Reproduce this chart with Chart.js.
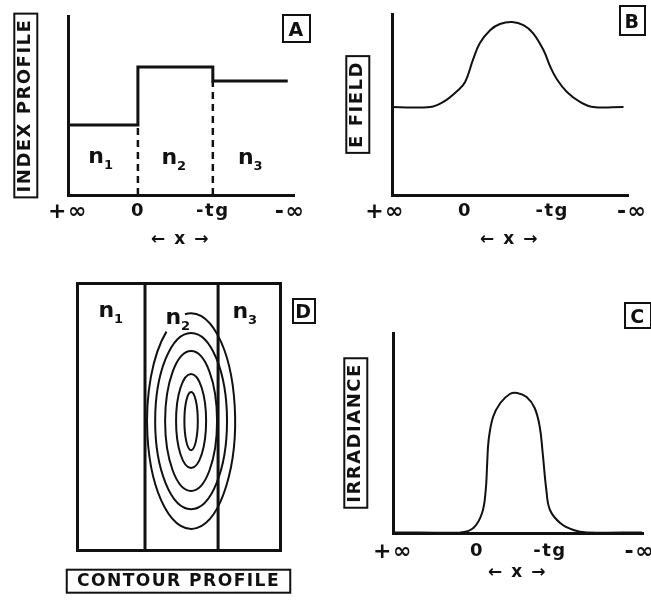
<!DOCTYPE html>
<html>
<head>
<meta charset="utf-8">
<script src="https://cdn.jsdelivr.net/npm/chart.js@4.4.1/dist/chart.umd.min.js"></script>
<style>
  body { margin: 0; background: #fff; }
  #page { position: relative; width: 651px; height: 602px; overflow: hidden; background: #fff; }
  .panel { position: absolute; }
</style>
</head>
<body>
<div id="page">
  <div class="panel" style="left:0;top:0;width:325px;height:260px"><canvas id="chartA"></canvas></div>
  <div class="panel" style="left:330px;top:0;width:321px;height:260px"><canvas id="chartB"></canvas></div>
  <div class="panel" style="left:0;top:280px;width:330px;height:322px"><canvas id="chartD"></canvas></div>
  <div class="panel" style="left:330px;top:280px;width:321px;height:322px"><canvas id="chartC"></canvas></div>
</div>
<script>
// Globals
var BLACK = '#111';
var FONT = "'DejaVu Sans', sans-serif";

// ----------------- DATA -----------------
// position across the guide in units of its thickness tg
// (0 = n1/n2 interface, 1 = n2/n3 interface, +inf off to the left)
var tickLabels = ["+\u221e", "0", "-tg", "-\u221e"];
var tickPosA = [-0.933, 0, 1, 2.03];
var tickPosB = [-0.92, 0, 1, 1.92];
var tickPosC = [-1.15, 0, 1, 2.23];

// A: index profile, one level per layer
var layerNames = ["1", "2", "3"];
var layerEdgesA = [-0.933, 0, 1, 2.0];
var indexLevels = [0.391, 0.715, 0.637];

// B: E field
var fieldX = [-0.83, -0.40, -0.25, -0.09, 0.0, 0.09, 0.17, 0.29, 0.40, 0.54, 0.67, 0.78, 0.90, 0.98, 1.06, 1.17, 1.32, 1.47, 1.82];
var fieldY = [0.486, 0.486, 0.514, 0.575, 0.624, 0.746, 0.840, 0.912, 0.945, 0.956, 0.939, 0.895, 0.801, 0.707, 0.635, 0.569, 0.514, 0.486, 0.486];

// C: irradiance
var irrX = [-1.15, -0.23, -0.05, 0.07, 0.12, 0.14, 0.16, 0.22, 0.32, 0.45, 0.55, 0.68, 0.79, 0.86, 0.90, 0.95, 1.00, 1.14, 1.32, 1.51, 2.26];
var irrY = [0.003, 0.003, 0.025, 0.10, 0.215, 0.35, 0.465, 0.58, 0.65, 0.695, 0.70, 0.68, 0.625, 0.53, 0.40, 0.215, 0.115, 0.05, 0.015, 0.003, 0.003];

// D: contour profile, x and y normalised to the drawn box
var layerEdgesD = [0.335, 0.695];
var contourCenter = [0.562, 0.483];
var contourRx = [0.033, 0.074, 0.128, 0.177, 0.217];
var contourRy = [0.109, 0.176, 0.262, 0.330, 0.404];
var contourGap = [null, null, null, null, [-124, -98]];   // open part of the outer line (deg)

// ----------------- HELPERS -----------------
function xy(xs, ys) {
    var out = [];
    for (var i = 0; i < xs.length; i++) out.push({x: xs[i], y: ys[i]});
    return out;
}

function boldFont(size) {
    return {family: FONT, size: size, weight: 'bold', lineHeight: 1.2};
}

function lineSet(data, width, dash) {
    return {
        data: data, borderColor: BLACK, borderWidth: width, borderDash: dash || [],
        pointRadius: 0, fill: false, tension: 0, clip: false
    };
}

function curveSet(data) {
    var d = lineSet(data, 2);
    d.tension = 0.4;
    return d;
}

function xAxis(min, max, ticks, height, pad) {
    return {
        type: 'linear', min: min, max: max,
        afterBuildTicks: function(scale) {
            scale.ticks = ticks.map(function(v) { return {value: v}; });
        },
        afterFit: function(scale) {
            scale.height = height;
            // labels may hang past the axis ends, as in the original
            scale.paddingLeft = 0;
            scale.paddingRight = 0;
        },
        ticks: {
            autoSkip: false, maxRotation: 0, padding: pad, color: BLACK,
            // the infinity labels are lettered larger; keep the same line box
            font: function(c) {
                var t = tickLabels[c.index] || '';
                if (t.indexOf('\u221e') >= 0) return {family: FONT, size: 22, weight: 'bold', lineHeight: '21.6px'};
                return boldFont(18);
            },
            callback: function(v, i) { return tickLabels[i]; }
        },
        grid: {display: false, drawTicks: false, lineWidth: 3},
        border: {display: true, color: BLACK, width: 3},
        title: {display: true, text: '\u2190 x \u2192', color: BLACK, font: boldFont(17), padding: {top: 0, bottom: 0}}
    };
}

function yAxis(width, label, pad) {
    return {
        type: 'linear', min: 0, max: 1,
        afterFit: function(scale) { scale.width = width; },
        ticks: {display: false},
        grid: {display: false, drawTicks: false, lineWidth: 3},
        border: {display: true, color: BLACK, width: 3},
        title: {display: true, text: label, color: BLACK, font: boldFont(18), padding: {top: pad, bottom: 0}, boxed: true}
    };
}

// letter spacing for the typewriter look of the original
var spacingPlugin = {
    id: 'spacing',
    beforeDraw: function(chart) { chart.ctx.letterSpacing = '1.5px'; }
};

// draws a frame round every axis title flagged as boxed, plus the panel letter
var framePlugin = {
    id: 'frames',
    afterDraw: function(chart, args, opts) {
        var ctx = chart.ctx;
        ctx.save();
        ctx.strokeStyle = BLACK;
        ctx.lineWidth = 2;
        Object.keys(chart.scales).forEach(function(k) {
            var s = chart.scales[k];
            var t = s.options.title;
            if (!t.display || !t.boxed) return;
            var lh = t.font.size * 1.2;
            ctx.font = 'bold ' + t.font.size + 'px ' + FONT;
            var len = ctx.measureText(t.text).width + 10;
            var thick = 23;
            if (s.isHorizontal()) {
                var cx = (s.left + s.right) / 2;
                var cy = s.bottom - t.padding.bottom - lh / 2;
                ctx.strokeRect(cx - len / 2, cy - thick / 2, len, thick);
            } else {
                var cx2 = s.left + t.padding.top + lh / 2;
                var cy2 = (s.top + s.bottom) / 2;
                ctx.strokeRect(cx2 - thick / 2, cy2 - len / 2, thick, len);
            }
        });
        if (opts.letter) {
            var L = opts.letter;
            ctx.strokeRect(L.x, L.y, L.w, L.h);
            ctx.fillStyle = BLACK;
            ctx.font = 'bold 19px ' + FONT;
            ctx.textAlign = 'center';
            ctx.textBaseline = 'alphabetic';
            ctx.fillText(L.text, L.x + L.w / 2, L.y + L.h / 2 + 7);
        }
        ctx.restore();
    }
};

// n1 / n2 / n3 layer names at data positions
var layerLabelPlugin = {
    id: 'layerLabels',
    afterDatasetsDraw: function(chart, args, opts) {
        if (!opts.at) return;
        var ctx = chart.ctx, xs = chart.scales.x, ys = chart.scales.y;
        ctx.save();
        ctx.fillStyle = BLACK;
        ctx.textBaseline = 'alphabetic';
        for (var i = 0; i < opts.at.length; i++) {
            var px = xs.getPixelForValue(opts.at[i][0]);
            var py = ys.getPixelForValue(opts.at[i][1]);
            ctx.font = 'bold 22px ' + FONT;
            ctx.textAlign = 'center';
            ctx.fillText('n', px, py + 7);
            ctx.font = 'bold 13px ' + FONT;
            ctx.textAlign = 'left';
            ctx.fillText(layerNames[i], px + 7, py + 13);
        }
        ctx.restore();
    }
};

// irradiance contours of panel D
var contourPlugin = {
    id: 'contours',
    afterDatasetsDraw: function(chart) {
        var xs = chart.scales.x, ys = chart.scales.y, ctx = chart.ctx;
        var cx = xs.getPixelForValue(contourCenter[0]);
        var cy = ys.getPixelForValue(contourCenter[1]);
        ctx.save();
        ctx.strokeStyle = BLACK;
        ctx.lineWidth = 2;
        for (var i = 0; i < contourRx.length; i++) {
            var rx = xs.getPixelForValue(contourCenter[0] + contourRx[i]) - cx;
            var ry = cy - ys.getPixelForValue(contourCenter[1] + contourRy[i]);
            var gap = contourGap[i];
            ctx.beginPath();
            if (gap) ctx.ellipse(cx, cy, rx, ry, 0, gap[1] * Math.PI / 180, (gap[0] + 360) * Math.PI / 180);
            else ctx.ellipse(cx, cy, rx, ry, 0, 0, 2 * Math.PI);
            ctx.stroke();
        }
        ctx.restore();
    }
};

var baseOptions = {
    responsive: true, maintainAspectRatio: false, animation: false, devicePixelRatio: 1,
    events: []
};

function makeOptions(extra) {
    var o = Object.assign({}, baseOptions, extra);
    o.plugins = Object.assign({legend: {display: false}, tooltip: {enabled: false}}, extra.plugins);
    return o;
}

// ----------------- CODE -----------------
// A: index profile
var stepPoints = [];
for (var i = 0; i < indexLevels.length; i++) {
    stepPoints.push({x: layerEdgesA[i], y: indexLevels[i]});
    stepPoints.push({x: layerEdgesA[i + 1], y: indexLevels[i]});
}
var dashSets = [];
for (var j = 1; j < indexLevels.length; j++) {
    var low = Math.min(indexLevels[j - 1], indexLevels[j]);
    dashSets.push(lineSet([{x: layerEdgesA[j], y: 0}, {x: layerEdgesA[j], y: low}], 2.5, [7, 5]));
}

new Chart('chartA', {
    type: 'line',
    data: {datasets: [lineSet(stepPoints, 3)].concat(dashSets)},
    options: makeOptions({
        layout: {padding: {left: 0, top: 16, right: 32, bottom: 10}},
        scales: {x: xAxis(-0.933, 2.07, tickPosA, 55, 6), y: yAxis(68, 'INDEX PROFILE', 15)},
        plugins: {
            layerLabels: {at: [[-0.547, 0.218], [0.43, 0.212], [1.45, 0.212]]},
            frames: {letter: {text: 'A', x: 283, y: 15, w: 27, h: 27}}
        }
    }),
    plugins: [spacingPlugin, framePlugin, layerLabelPlugin]
});

// B: E field
new Chart('chartB', {
    type: 'line',
    data: {datasets: [curveSet(xy(fieldX, fieldY))]},
    options: makeOptions({
        layout: {padding: {left: 0, top: 14, right: 24, bottom: 10}},
        scales: {x: xAxis(-0.84, 1.86, tickPosB, 55, 6), y: yAxis(62, 'E FIELD', 17)},
        plugins: {frames: {letter: {text: 'B', x: 290, y: 6, w: 25, h: 29}}}
    }),
    plugins: [spacingPlugin, framePlugin]
});

// C: irradiance
new Chart('chartC', {
    type: 'line',
    data: {datasets: [curveSet(xy(irrX, irrY))]},
    options: makeOptions({
        layout: {padding: {left: 0, top: 53, right: 9, bottom: 19}},
        scales: {x: xAxis(-1.15, 2.26, tickPosC, 50, 8), y: yAxis(63, 'IRRADIANCE', 15)},
        plugins: {frames: {letter: {text: 'C', x: 295, y: 23, w: 26, h: 25}}}
    }),
    plugins: [spacingPlugin, framePlugin]
});

// D: contour profile, box edges are the four axis borders
function frameAxis(pos, axisId) {
    return {
        type: 'linear', min: 0, max: 1, position: pos, axis: axisId,
        afterFit: function(scale) { if (scale.isHorizontal()) scale.height = 0; else scale.width = 0; },
        ticks: {display: false},
        grid: {display: false, drawTicks: false, lineWidth: 3},
        border: {display: true, color: BLACK, width: 3}
    };
}

var interfaceSets = layerEdgesD.map(function(e) {
    return lineSet([{x: e, y: 0}, {x: e, y: 1}], 3);
});

var xD = frameAxis('bottom', 'x');
xD.afterFit = function(scale) { scale.height = 42; };
xD.title = {display: true, text: 'CONTOUR PROFILE', color: BLACK, font: boldFont(18), padding: {top: 0, bottom: 0}, boxed: true};

new Chart('chartD', {
    type: 'line',
    data: {datasets: interfaceSets},
    options: makeOptions({
        layout: {padding: {left: 77, top: 3, right: 50, bottom: 10}},
        scales: {
            x: xD,
            y: frameAxis('left', 'y'),
            xTop: frameAxis('top', 'x'),
            yRight: frameAxis('right', 'y')
        },
        plugins: {
            layerLabels: {at: [[0.148, 0.899], [0.478, 0.873], [0.808, 0.895]]},
            frames: {letter: {text: 'D', x: 293, y: 19, w: 22, h: 24}}
        }
    }),
    plugins: [spacingPlugin, framePlugin, layerLabelPlugin, contourPlugin]
});
</script>
</body>
</html>
